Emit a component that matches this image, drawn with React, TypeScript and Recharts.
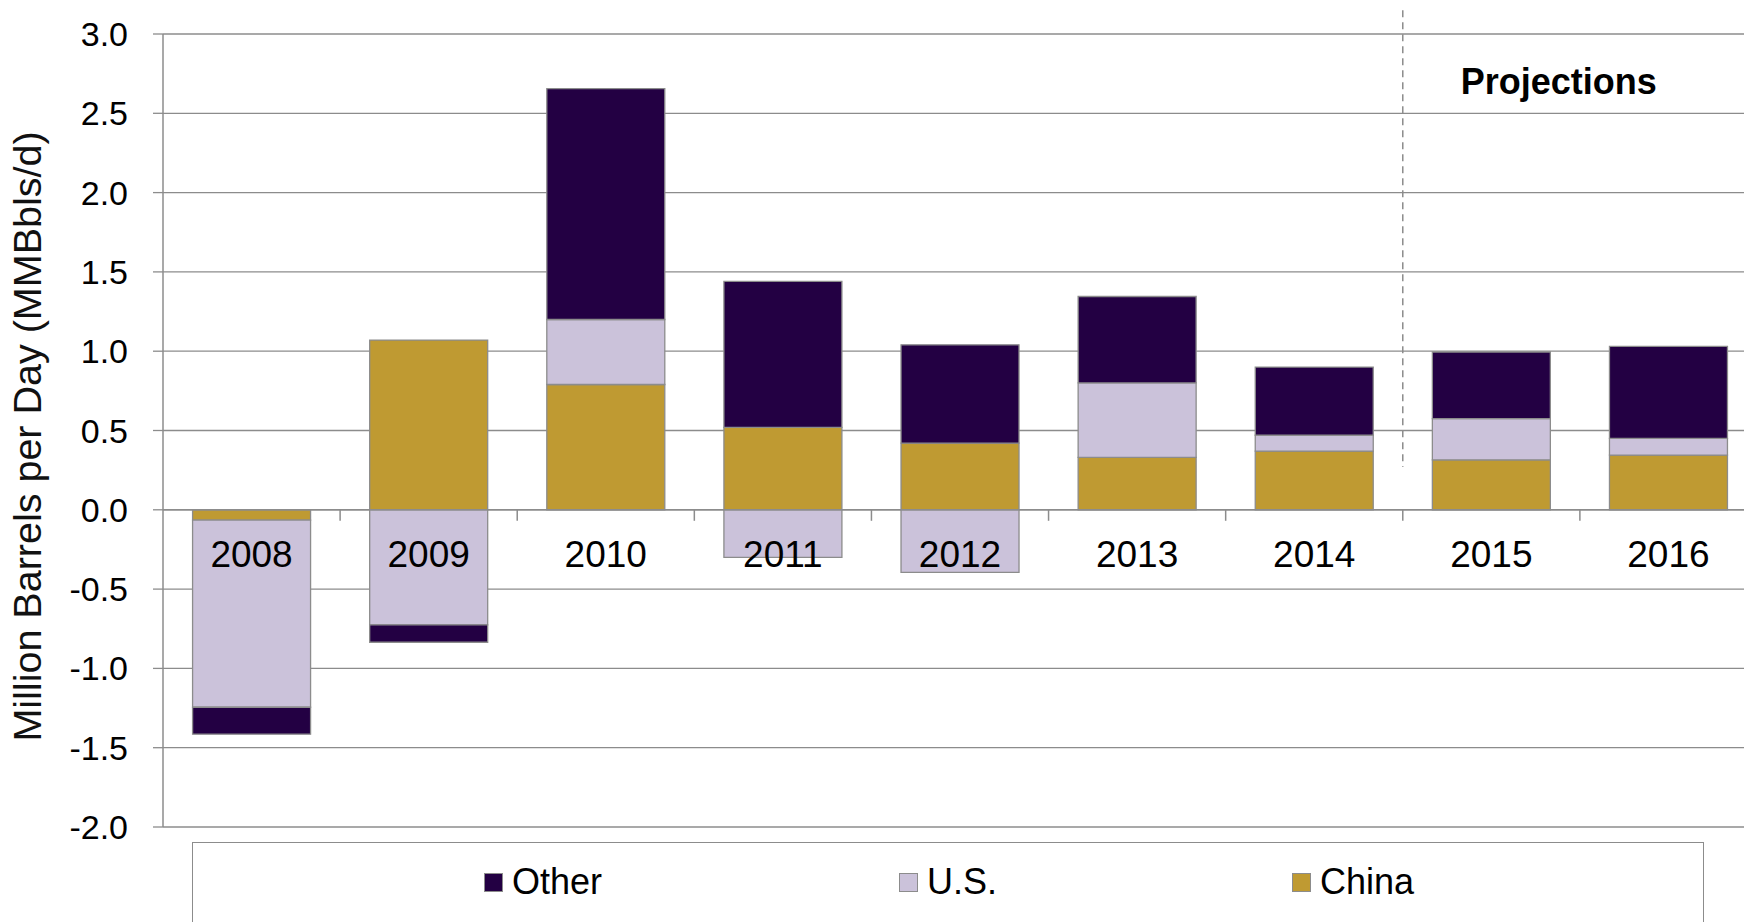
import React from 'react';
import {
  BarChart,
  Bar,
  XAxis,
  YAxis,
  CartesianGrid,
  Legend,
  ReferenceLine,
  ReferenceArea,
} from 'recharts';

const years = ['2008', '2009', '2010', '2011', '2012', '2013', '2014', '2015', '2016'];
const china = [-0.065, 1.07, 0.79, 0.52, 0.42, 0.33, 0.37, 0.315, 0.345];
const us = [-1.18, -0.725, 0.41, -0.3, -0.395, 0.47, 0.1, 0.26, 0.105];
const other = [-0.17, -0.11, 1.455, 0.92, 0.62, 0.545, 0.43, 0.42, 0.58];
const yTicks = [-2, -1.5, -1, -0.5, 0, 0.5, 1, 1.5, 2, 2.5, 3];
const legendOrder = ['Other', 'U.S.', 'China'];
const projectionYears = ['2015', '2016'];
const projectionLineRange = [0.27, 3.15];
const projectionLabelRange = [2.6, 2.8];

const data = years.map((year, i) => ({
  year,
  China: china[i],
  'U.S.': us[i],
  Other: other[i],
}));

const FONT = '"Liberation Sans", Arial, Helvetica, sans-serif';
const GRAY = '#8c8c8c';
const COLORS: Record<string, string> = {
  Other: '#230043',
  'U.S.': '#cbc2da',
  China: '#bf9a32',
};

const CHART_W = 1760;
const CHART_H = 960;
const PLOT_TOP = 34;
const PLOT_LEFT = 163;
const PLOT_RIGHT_MARGIN = 3;
const PLOT_H = 793;
const Y_MAX = 3;
const Y_MIN = -2;
const BAND = (CHART_W - PLOT_LEFT - PLOT_RIGHT_MARGIN) / years.length;
const ZERO_Y = PLOT_TOP + (PLOT_H * Y_MAX) / (Y_MAX - Y_MIN);

const XTick = (props: any) => {
  const { x, payload, index } = props;
  return (
    <g>
      <text
        x={x}
        y={ZERO_Y + 57}
        textAnchor="middle"
        fontSize={37}
        fontFamily={FONT}
        fill="#000"
      >
        {payload.value}
      </text>
      {index > 0 && (
        <line
          x1={x - BAND / 2}
          x2={x - BAND / 2}
          y1={ZERO_Y}
          y2={ZERO_Y + 11}
          stroke={GRAY}
          strokeWidth={1.5}
        />
      )}
    </g>
  );
};

const YLabel = (props: any) => {
  const vb = props.viewBox || { x: 0, y: PLOT_TOP, width: PLOT_LEFT, height: PLOT_H };
  const cx = vb.x + 27;
  const cy = vb.y + vb.height / 2 + 6;
  return (
    <text
      x={cx}
      y={cy}
      transform={`rotate(-90, ${cx}, ${cy})`}
      textAnchor="middle"
      dominantBaseline="central"
      fontSize={39.5}
      fontFamily={FONT}
      fill="#111"
    >
      Million Barrels per Day (MMBbls/d)
    </text>
  );
};

const DashedLeftEdge = (props: any) => {
  const { x, y, height } = props;
  return (
    <line
      x1={x}
      x2={x}
      y1={y}
      y2={y + height}
      stroke={GRAY}
      strokeWidth={1.5}
      strokeDasharray="7 5"
    />
  );
};

const LegendBox = (props: any) => {
  const payload = (props.payload || [])
    .slice()
    .sort((a: any, b: any) => legendOrder.indexOf(a.value) - legendOrder.indexOf(b.value));
  return (
    <div
      style={{
        width: 1512,
        height: 100,
        boxSizing: 'border-box',
        border: `1.5px solid ${GRAY}`,
        display: 'flex',
        justifyContent: 'center',
        alignItems: 'flex-start',
        paddingTop: 19,
        fontFamily: FONT,
      }}
    >
      {payload.map((entry: any) => (
        <div
          key={entry.value}
          style={{
            width: 405,
            display: 'flex',
            justifyContent: 'center',
            alignItems: 'center',
          }}
        >
          <span
            style={{
              display: 'inline-block',
              width: 19,
              height: 19,
              boxSizing: 'border-box',
              background: COLORS[entry.value],
              border: `1.5px solid ${GRAY}`,
              marginRight: 9,
            }}
          />
          <span style={{ fontSize: 36, color: '#000', lineHeight: '40px' }}>{entry.value}</span>
        </div>
      ))}
    </div>
  );
};

export default function App() {
  return (
    <div
      style={{
        position: 'fixed',
        left: 0,
        top: 0,
        width: 1744,
        height: 922,
        overflow: 'hidden',
        background: '#fff',
      }}
    >
      <BarChart
        width={CHART_W}
        height={CHART_H}
        data={data}
        stackOffset="sign"
        barCategoryGap="16.7%"
        margin={{ top: PLOT_TOP, right: PLOT_RIGHT_MARGIN, left: 0, bottom: 0 }}
      >
        <CartesianGrid vertical={false} stroke={GRAY} strokeWidth={1.3} />
        <XAxis
          dataKey="year"
          type="category"
          axisLine={false}
          tickLine={false}
          tick={<XTick />}
          height={33}
          interval={0}
        />
        <YAxis
          domain={[Y_MIN, Y_MAX]}
          ticks={yTicks}
          interval={0}
          width={PLOT_LEFT}
          tickFormatter={(v: number) => v.toFixed(1)}
          tick={{ fontSize: 34, fill: '#000', fontFamily: FONT }}
          tickSize={10}
          tickMargin={25}
          axisLine={{ stroke: GRAY, strokeWidth: 1.5 }}
          tickLine={{ stroke: GRAY, strokeWidth: 1.3 }}
          label={<YLabel />}
        />
        <ReferenceLine y={0} stroke={GRAY} strokeWidth={1.5} />
        <Bar dataKey="China" stackId="a" fill={COLORS.China} stroke={GRAY} strokeWidth={1.3} isAnimationActive={false} />
        <Bar dataKey="U.S." stackId="a" fill={COLORS['U.S.']} stroke={GRAY} strokeWidth={1.3} isAnimationActive={false} />
        <Bar dataKey="Other" stackId="a" fill={COLORS.Other} stroke={GRAY} strokeWidth={1.3} isAnimationActive={false} />
        <ReferenceArea
          x1={projectionYears[0]}
          x2={projectionYears[1]}
          y1={projectionLineRange[0]}
          y2={projectionLineRange[1]}
          ifOverflow="visible"
          shape={<DashedLeftEdge />}
        />
        <ReferenceArea
          x1={projectionYears[0]}
          x2={projectionYears[1]}
          y1={projectionLabelRange[0]}
          y2={projectionLabelRange[1]}
          ifOverflow="visible"
          fill="none"
          stroke="none"
          label={{
            value: 'Projections',
            position: 'insideLeft',
            offset: 58,
            fontSize: 36,
            fontWeight: 'bold',
            fill: '#000',
            fontFamily: FONT,
          }}
        />
        <Legend
          content={<LegendBox />}
          verticalAlign="bottom"
          wrapperStyle={{ left: 192, top: 842, bottom: 'auto', width: 1512 }}
        />
      </BarChart>
    </div>
  );
}
